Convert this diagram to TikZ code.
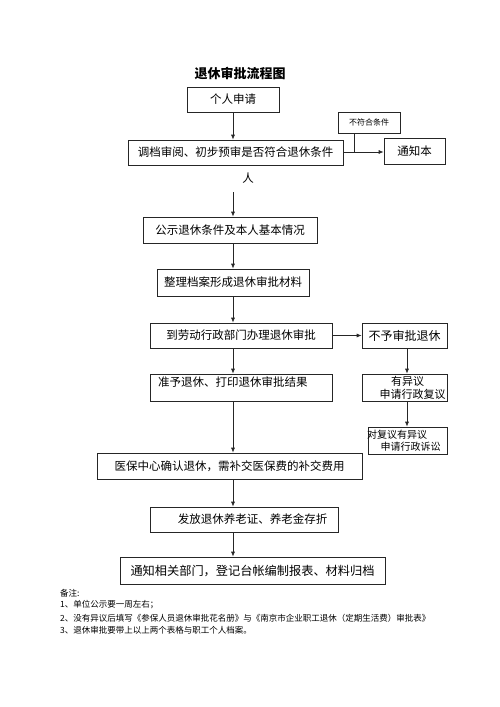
\documentclass[tikz,border=0pt]{standalone}
\usepackage{fontspec}
\setmainfont{Noto Sans CJK SC}
\usetikzlibrary{arrows.meta}
\tikzset{
  box/.style={draw=black!85, line width=0.7pt, rectangle, inner sep=0pt, font=\fontsize{11.5}{13}\selectfont},
  lbl/.style={inner sep=0pt, font=\fontsize{11.5}{13}\selectfont},
  note/.style={inner sep=0pt, anchor=west, font=\fontsize{8.5}{10}\selectfont},
  arr/.style={draw=black!85, line width=0.7pt, -{Latex[length=5pt,width=4pt]}},
  ln/.style={draw=black!85, line width=0.7pt}
}
\begin{document}
\begin{tikzpicture}[x=1pt,y=-1pt]
\path[use as bounding box] (0,0) rectangle (500,707);
\node[inner sep=0pt, font=\fontsize{13}{15}\selectfont\bfseries] (ti) at (240,73) {退休审批流程图};
\node[box, minimum width=92pt, minimum height=25pt] (b1) at (233,99.5) {个人申请};
\node[box, minimum width=215pt, minimum height=25pt] (b2) at (235.5,152.5) {调档审阅、初步预审是否符合退休条件};
\node[lbl] (ren) at (248,178) {人};
\node[box, minimum width=62pt, minimum height=21pt, font=\fontsize{8}{10}\selectfont] (b3) at (369,122.5) {不符合条件};
\node[box, minimum width=61pt, minimum height=26pt] (b4) at (414.5,151) {通知本};
\node[box, minimum width=174pt, minimum height=26pt] (b5) at (230,230) {公示退休条件及本人基本情况};
\node[box, minimum width=152pt, minimum height=27pt] (b6) at (233,282.5) {整理档案形成退休审批材料};
\node[box, minimum width=182pt, minimum height=25pt] (b7) at (241,335.5) {到劳动行政部门办理退休审批};
\node[box, minimum width=85pt, minimum height=25pt, font=\fontsize{12}{13}\selectfont] (b8) at (404.5,335.5) {不予审批退休};
\node[box, minimum width=182pt, minimum height=27pt] (b9) at (241,387.5) {};
\node[lbl, anchor=west] (t9) at (158,382) {准予退休、打印退休审批结果};
\node[box, minimum width=85pt, minimum height=27pt] (b10) at (404.5,387.5) {};
\node[lbl, font=\fontsize{11}{12}\selectfont] (t10a) at (407.5,381) {有异议};
\node[lbl, font=\fontsize{11}{12}\selectfont] (t10b) at (412.5,394) {申请行政复议};
\node[box, minimum width=79pt, minimum height=27pt] (b11) at (407.5,440.5) {};
\node[lbl, font=\fontsize{10}{12}\selectfont] (t11a) at (397,435) {对复议有异议};
\node[lbl, font=\fontsize{10}{12}\selectfont] (t11b) at (410.5,447) {申请行政诉讼};
\node[box, minimum width=265pt, minimum height=26pt] (b12) at (229.5,466) {医保中心确认退休，需补交医保费的补交费用};
\node[box, minimum width=188pt, minimum height=25pt] (b13) at (244,519.5) {\hspace{17pt}发放退休养老证、养老金存折};
\node[box, minimum width=265pt, minimum height=27pt, font=\fontsize{12.2}{13}\selectfont] (b14) at (252.5,570.5) {通知相关部门，登记台帐编制报表、材料归档\hspace{8pt}};
\coordinate (s) at (233,192);
\coordinate (j) at (354,152);
\coordinate (r) at (407,348);
\draw[arr] (b1.south -| s) -- (b2.north -| s);
\draw[arr] (b2.east |- j) -- (b4.west |- j);
\draw[ln] (b3.south -| j) -- (j);
\draw[arr] (s) -- (s |- b5.north);
\draw[arr] (b5.south -| s) -- (b6.north -| s);
\draw[arr] (b6.south -| s) -- (b7.north -| s);
\draw[arr] (b7.east) -- (b8.west);
\draw[arr] (b7.south -| s) -- (b9.north -| s);
\draw[arr] (b8.south -| r) -- (b10.north -| r);
\draw[arr] (b10.south -| r) -- (b11.north -| r);
\draw[arr] (b9.south -| s) -- (b12.north -| s);
\draw[arr] (b12.south -| s) -- (b13.north -| s);
\draw[arr] (b13.south -| s) -- (b14.north -| s);
\node[note] (n0) at (60,593) {备注:};
\node[note] (n1) at (60,605) {1、单位公示要一周左右；};
\node[note] (n2) at (60,618) {2、没有异议后填写《参保人员退休审批花名册》与《南京市企业职工退休（定期生活费）审批表》};
\node[note] (n3) at (60,630) {3、退休审批要带上以上两个表格与职工个人档案。};
\end{tikzpicture}
\end{document}
